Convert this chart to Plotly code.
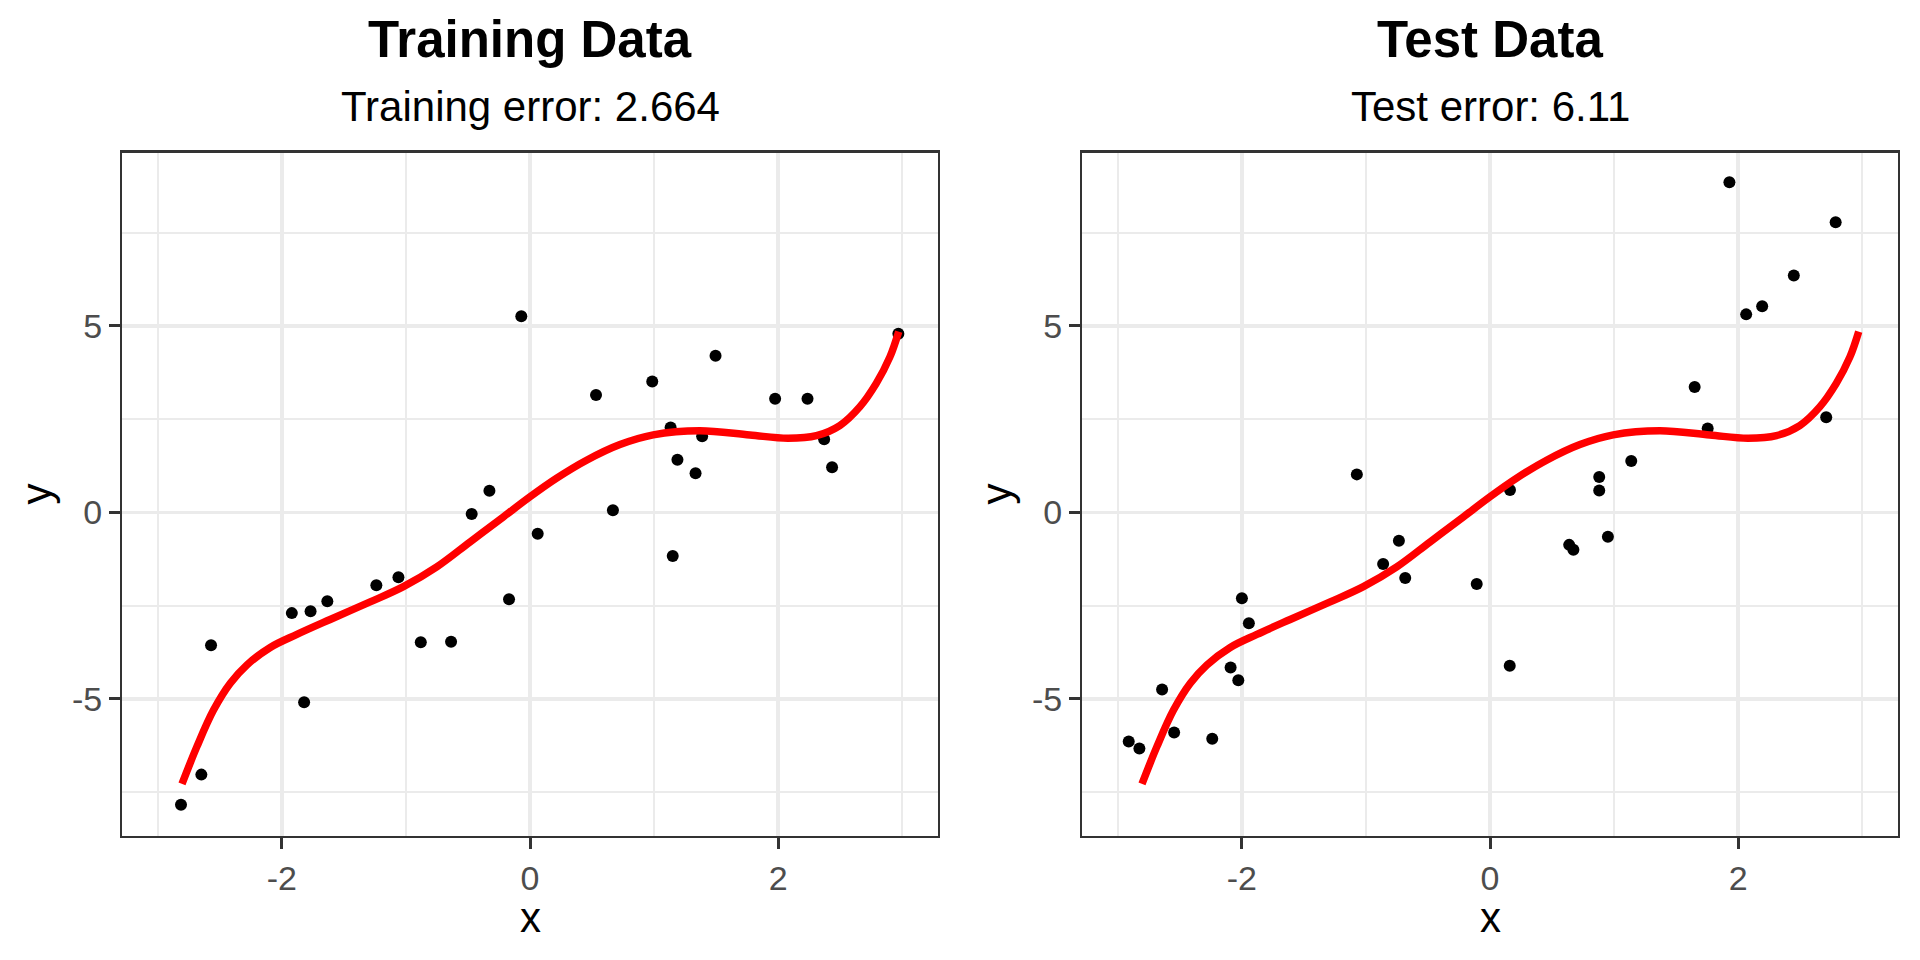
import plotly.graph_objects as go

# ---------------- data ----------------
train_x = [-2.812, -2.648, -2.570, -1.919, -1.820, -1.768, -1.633, -1.238, -1.060, -0.880,
           -0.636, -0.470, -0.327, -0.169, -0.070, 0.062, 0.532, 0.668, 0.985, 1.133,
           1.150, 1.188, 1.334, 1.387, 1.495, 1.975, 2.236, 2.370, 2.434, 2.968]
train_y = [-7.84, -7.03, -3.56, -2.70, -5.09, -2.65, -2.38, -1.95, -1.74, -3.48,
           -3.47, -0.04, 0.58, -2.33, 5.26, -0.57, 3.15, 0.06, 3.51, 2.28,
           -1.17, 1.41, 1.05, 2.04, 4.20, 3.05, 3.05, 1.96, 1.21, 4.79]

test_x = [-2.911, -2.825, -2.642, -2.545, -2.238, -2.090, -2.028, -1.999, -1.943, -1.073,
          -0.861, -0.734, -0.683, -0.107, 0.161, 0.159, 0.638, 0.672, 0.880, 0.880,
          0.950, 1.138, 1.649, 1.754, 1.929, 2.064, 2.193, 2.448, 2.709, 2.785]
test_y = [-6.14, -6.33, -4.75, -5.90, -6.07, -4.16, -4.50, -2.30, -2.97, 1.02,
          -1.38, -0.76, -1.76, -1.92, 0.60, -4.11, -0.87, -1.00, 0.95, 0.59,
          -0.65, 1.38, 3.36, 2.25, 8.85, 5.31, 5.53, 6.35, 2.55, 7.78]

# fitted curve
fit_x = [-2.804, -2.684, -2.550, -2.415, -2.281, -2.093, -1.878, -1.610, -1.288, -1.020,
         -0.751, -0.483, -0.215, 0.000, 0.215, 0.456, 0.725, 0.993, 1.369, 1.771,
         2.080, 2.308, 2.496, 2.657, 2.790, 2.900, 2.971]
fit_y = [-7.28, -6.28, -5.30, -4.58, -4.09, -3.62, -3.27, -2.87, -2.40, -1.99,
         -1.46, -0.79, -0.12, 0.42, 0.92, 1.40, 1.82, 2.08, 2.19, 2.075,
         1.99, 2.06, 2.33, 2.83, 3.46, 4.17, 4.85]

titles = ["Training Data", "Test Data"]
subtitles = ["Training error: 2.664", "Test error: 6.11"]
x_ticks = [-2, 0, 2]
x_tick_labels = ["-2", "0", "2"]
x_minor = [-3, -1, 1, 3]
y_ticks = [-5, 0, 5]
y_tick_labels = ["-5", "0", "5"]
y_minor = [-7.5, -2.5, 2.5, 7.5]
x_range = [-3.285, 3.285]
y_range = [-8.665, 9.65]

# ---------------- layout helpers ----------------
W, H = 1920, 960
FONT = "Liberation Sans, Arial, sans-serif"
GRID = "#EBEBEB"
DARK = "#333333"

def fx(px):
    return px / W

def fy(py):
    return 1 - py / H

panels = [(122.3, 937.7), (1082.3, 1897.7)]
ytop, ybot = 152.5, 835.6

fig = go.Figure()
sets = [(train_x, train_y), (test_x, test_y)]
for i, (xs, ys) in enumerate(sets):
    xa = "x" if i == 0 else "x2"
    ya = "y" if i == 0 else "y2"
    fig.add_trace(go.Scatter(x=xs, y=ys, mode="markers", xaxis=xa, yaxis=ya,
                             marker=dict(color="black", size=12, line=dict(width=0)),
                             showlegend=False, hoverinfo="skip"))
    fig.add_trace(go.Scatter(x=fit_x, y=fit_y, mode="lines", xaxis=xa, yaxis=ya,
                             line=dict(color="#FF0000", width=7.5, shape="spline", smoothing=1.0),
                             showlegend=False, hoverinfo="skip"))

def xaxis(dom, anchor):
    return dict(domain=dom, range=x_range, anchor=anchor, autorange=False,
                tickmode="array", tickvals=x_ticks, ticktext=x_tick_labels,
                ticks="outside", ticklen=11, tickwidth=3, tickcolor=DARK,
                tickfont=dict(family=FONT, size=34, color="#4D4D4D"),
                showgrid=True, gridcolor=GRID, gridwidth=3.5, zeroline=False,
                showline=True, linecolor=DARK, linewidth=2.3, mirror=True,
                minor=dict(tickmode="array", tickvals=x_minor, showgrid=True,
                           gridcolor=GRID, gridwidth=2, ticks=""),
                automargin=False, fixedrange=True)

def yaxis(anchor):
    return dict(domain=[fy(ybot), fy(ytop)], range=y_range, anchor=anchor, autorange=False,
                tickmode="array", tickvals=y_ticks, ticktext=y_tick_labels,
                ticks="outside", ticklen=11, tickwidth=3, tickcolor=DARK,
                tickfont=dict(family=FONT, size=34, color="#4D4D4D"),
                showgrid=True, gridcolor=GRID, gridwidth=3.5, zeroline=False,
                showline=True, linecolor=DARK, linewidth=2.3, mirror=True,
                minor=dict(tickmode="array", tickvals=y_minor, showgrid=True,
                           gridcolor=GRID, gridwidth=2, ticks=""),
                automargin=False, fixedrange=True)

fig.update_layout(
    width=W, height=H,
    margin=dict(l=0, r=0, t=0, b=0),
    paper_bgcolor="white", plot_bgcolor="white",
    xaxis=xaxis([fx(panels[0][0]), fx(panels[0][1])], "y"),
    xaxis2=xaxis([fx(panels[1][0]), fx(panels[1][1])], "y2"),
    yaxis=yaxis("x"),
    yaxis2=yaxis("x2"),
)

ann = []
for i, (l, r) in enumerate(panels):
    cx = fx((l + r) / 2)
    ann.append(dict(text="<b>%s</b>" % titles[i], x=cx, y=fy(40), xref="paper", yref="paper",
                    xanchor="center", yanchor="middle", showarrow=False, borderpad=0,
                    font=dict(family=FONT, size=51, color="black")))
    ann.append(dict(text=subtitles[i], x=cx, y=fy(106.5), xref="paper", yref="paper",
                    xanchor="center", yanchor="middle", showarrow=False, borderpad=0,
                    font=dict(family=FONT, size=42, color="black")))
    ann.append(dict(text="x", x=cx, y=fy(917), xref="paper", yref="paper",
                    xanchor="center", yanchor="middle", showarrow=False, borderpad=0,
                    font=dict(family=FONT, size=42, color="black")))
    ann.append(dict(text="y", x=fx(l - 85.8), y=fy((ytop + ybot) / 2), xref="paper", yref="paper",
                    xanchor="center", yanchor="middle", showarrow=False, textangle=-90, borderpad=0,
                    font=dict(family=FONT, size=42, color="black")))
fig.update_layout(annotations=ann)

fig.write_html("out.html",
               config={"displayModeBar": False, "staticPlot": True},
               post_script="document.body.style.margin='0px';document.body.style.overflow='hidden';")
